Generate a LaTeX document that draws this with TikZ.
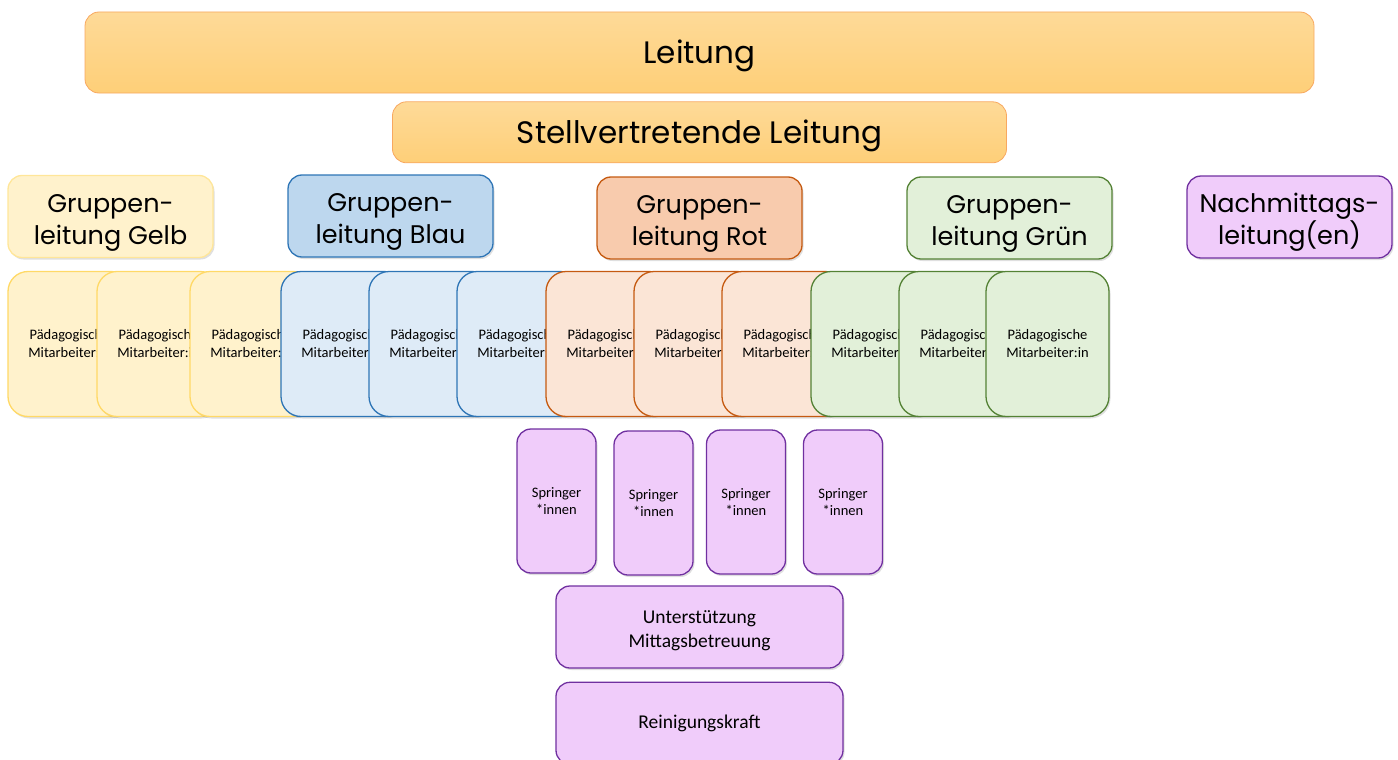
\documentclass[tikz,border=0pt]{standalone}
\usepackage{fontspec}
\setmainfont{Carlito}
\newfontfamily\gothic{Poppins}
\usetikzlibrary{positioning,shadows}

\definecolor{leadtop}{HTML}{FEDA98}
\definecolor{leadbot}{HTML}{FECF78}
\definecolor{leadline}{HTML}{F8A860}
\definecolor{gelbfill}{HTML}{FFF2CC}
\definecolor{gelbline}{HTML}{FFE699}
\definecolor{gelbcard}{HTML}{FFD966}
\definecolor{blaufill}{HTML}{BDD7EE}
\definecolor{blaucard}{HTML}{DEEBF7}
\definecolor{blauline}{HTML}{2E75B6}
\definecolor{rotfill}{HTML}{F8CBAD}
\definecolor{rotcard}{HTML}{FBE5D6}
\definecolor{rotline}{HTML}{C55A11}
\definecolor{gruenfill}{HTML}{E2F0D9}
\definecolor{gruenline}{HTML}{548235}
\definecolor{lilafill}{HTML}{F0CCFA}
\definecolor{lilaline}{HTML}{7030A0}

\begin{document}
\begin{tikzpicture}[x=1pt,y=-1pt,
    lift/.style={execute at begin node={\rule{0pt}{#1}}},
    box/.style={rectangle,draw,rounded corners=14pt,line width=1.3pt,align=center,inner sep=0pt},
    shade box/.style={box,drop shadow={opacity=0.25,shadow xshift=1.5pt,shadow yshift=-2pt}},
    top box/.style={box,line width=0.8pt,draw=leadline,top color=leadtop,bottom color=leadbot,
        font=\gothic\fontsize{31}{37}\selectfont,lift=30pt},
    head/.style={shade box,minimum width=205pt,minimum height=82pt,font=\gothic\fontsize{25.5}{32}\selectfont,
        lift=62pt},
    card/.style={shade box,rounded corners=20pt,minimum width=123pt,minimum height=145pt,
        font=\fontsize{14.5}{18}\selectfont},
    jumper/.style={shade box,draw=lilaline,fill=lilafill,minimum width=79pt,minimum height=144pt,
        font=\fontsize{14.5}{17}\selectfont},
    wide/.style={shade box,draw=lilaline,fill=lilafill,minimum width=287pt,minimum height=82pt,
        font=\fontsize{19.5}{24}\selectfont}]

  \useasboundingbox (0,0) rectangle (1398,760);

  % Leitung
  \node[top box,minimum width=1229pt,minimum height=81pt] (lead) at (699.5,52.5) {Leitung};
  \node[top box,minimum width=614pt,minimum height=61pt] (deputy) [below=8pt of lead] {Stellvertretende Leitung};

  % Gruppenleitungen
  \node[head,draw=gelbline,fill=gelbfill,drop shadow={opacity=0}] (hgelb) at (110.5,216.5) {Gruppen-\\leitung Gelb};
  \node[head,draw=blauline,fill=blaufill] (hblau) at (390.5,216) {Gruppen-\\leitung Blau};
  \node[head,draw=rotline,fill=rotfill] (hrot) at (699.5,218) {Gruppen-\\leitung Rot};
  \node[head,draw=gruenline,fill=gruenfill] (hgruen) at (1009.5,218) {Gruppen-\\leitung Gr\"un};
  \node[head,draw=lilaline,fill=lilafill] (hnach) at (1289.5,217) {Nachmittags-\\leitung(en)};

  % Mitarbeiter:innen
  \foreach \x/\fc/\dc [count=\i] in {8/gelbfill/gelbcard,97/gelbfill/gelbcard,190/gelbfill/gelbcard,
      281/blaucard/blauline,369/blaucard/blauline,457/blaucard/blauline,
      546/rotcard/rotline,634/rotcard/rotline,722/rotcard/rotline,
      811/gruenfill/gruenline,899/gruenfill/gruenline,986/gruenfill/gruenline}
    \node[card,draw=\dc,fill=\fc] (staff\i) at (\x+61.5,344) {P\"adagogische\\Mitarbeiter:in};

  % Springer
  \node[jumper] (jump1) at (556.5,501) {Springer\\*innen};
  \node[jumper] (jump2) at (653.5,503) {Springer\\*innen};
  \node[jumper] (jump3) at (746,502) {Springer\\*innen};
  \node[jumper] (jump4) at (843,502) {Springer\\*innen};

  \node[wide,lift=44pt] (support) at (699.5,627) {Unterst\"utzung\\Mittagsbetreuung};
  \node[wide] (clean) [below=13pt of support] {Reinigungskraft};
\end{tikzpicture}
\end{document}
